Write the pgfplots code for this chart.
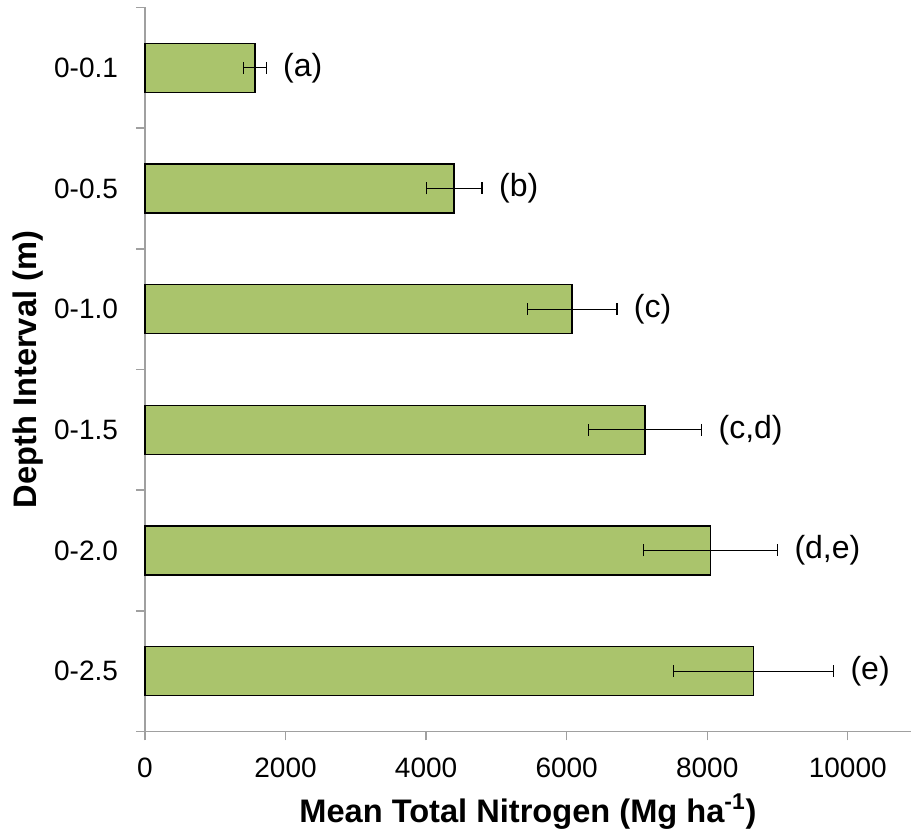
\documentclass[border=0pt]{standalone}
\usepackage{pgfplots}
\pgfplotsset{compat=1.18}
\usepackage{fontspec}
\setmainfont{Liberation Sans}
\definecolor{barg}{RGB}{170,196,108}
\definecolor{axgray}{RGB}{160,160,160}
\begin{document}
\begin{tikzpicture}
\begin{axis}[
  scale only axis, width=383pt, height=362pt,
  xmin=0, xmax=10900, ymin=-0.5, ymax=5.5,
  axis x line*=bottom, axis y line*=left,
  axis line style={draw=axgray, line width=0.7pt, -},
  tick align=outside,
  tick style={draw=axgray, line width=0.7pt},
  major tick length=4.5pt,
  scaled x ticks=false,
  xtick={0,2000,4000,6000,8000,10000},
  xticklabel style={yshift=-5pt},
  ytick={-0.5,0.5,1.5,2.5,3.5,4.5,5.5},
  yticklabels={},
  extra y ticks={0,1,2,3,4,5},
  extra y tick labels={0-2.5,0-2.0,0-1.5,0-1.0,0-0.5,0-0.1},
  extra y tick style={major tick length=0pt, tick style={draw=none}, yticklabel style={xshift=-10pt}},
  ticklabel style={font=\fontsize{14}{16}\selectfont},
  /pgf/number format/assume math mode=true,
  /pgf/number format/1000 sep={},
  xlabel={Mean Total Nitrogen (Mg ha\textsuperscript{-1})},
  ylabel={Depth Interval (m)},
  xlabel style={font=\fontsize{16.3}{19}\selectfont\bfseries, at={(axis description cs:0.5,-0.1257)}, anchor=base},
  ylabel style={font=\fontsize{16.3}{19}\selectfont\bfseries, at={(axis description cs:-0.141,0.5)}, anchor=base},
  clip=false,
]
\addplot[xbar, bar width=24.5pt, fill=barg, draw=black, line width=0.8pt,
  error bars/.cd, x dir=both, x explicit,
  error bar style={black, line width=0.6pt},
  error mark=|,
  error mark options={black, line width=0.6pt, mark size=3pt}]
  coordinates {
    (8660,0) +- (1137,0)
    (8045,1) +- (955,0)
    (7115,2) +- (805,0)
    (6080,3) +- (635,0)
    (4400,4) +- (396,0)
    (1564,5) +- (160,0)
  };
\addplot[draw=none, mark=none, nodes near coords, point meta=explicit symbolic,
  nodes near coords style={anchor=west, xshift=5pt, font=\fontsize{16}{18}\selectfont, text=black}]
  table[meta=lab] {
    x y lab
    9797 0 (e)
    9000 1 (d,e)
    7920 2 (c,d)
    6715 3 (c)
    4796 4 (b)
    1724 5 (a)
  };
\end{axis}
\pgfresetboundingbox
\path[use as bounding box] ([xshift=-72.5pt,yshift=-51pt]current axis.south west) rectangle ([yshift=3.75pt]current axis.north east);
\end{tikzpicture}
\end{document}
